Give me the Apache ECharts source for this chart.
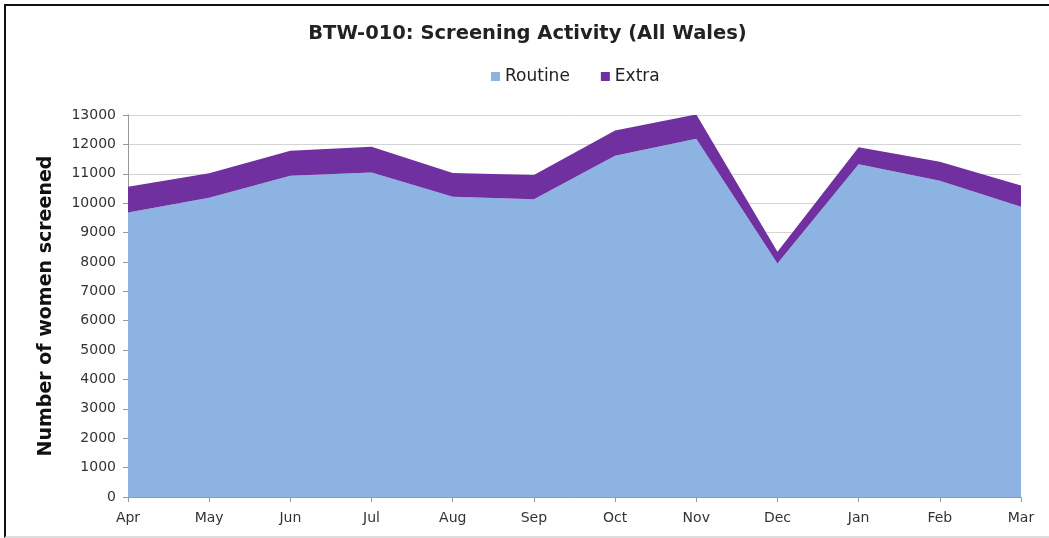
<!DOCTYPE html>
<html>
<head>
<meta charset="utf-8">
<script src="https://cdn.jsdelivr.net/npm/echarts@6/dist/echarts.min.js"></script>
<style>
  html, body { margin: 0; padding: 0; background: #fff; overflow: hidden; }
  #chart { position: absolute; left: 4px; top: 4px; width: 1043px; height: 530px;
           border-left: 2px solid #111; border-top: 2px solid #111; border-bottom: 2px solid #ddd; }
</style>
</head>
<body>
<div id="chart"></div>
<script>
const months = ['Apr', 'May', 'Jun', 'Jul', 'Aug', 'Sep', 'Oct', 'Nov', 'Dec', 'Jan', 'Feb', 'Mar'];
const routine = [9680, 10180, 10930, 11040, 10220, 10130, 11610, 12190, 7950, 11320, 10760, 9880];
const extra = [880, 840, 850, 880, 810, 830, 860, 830, 400, 580, 650, 720];

const chart = echarts.init(document.getElementById('chart'));
const font = 'DejaVu Sans';

chart.setOption({
  animation: false,
  title: {
    text: 'BTW-010: Screening Activity (All Wales)',
    left: 'center',
    top: 13,
    textStyle: { fontFamily: font, fontSize: 19.5, fontWeight: 'bold', color: '#222' }
  },
  legend: {
    top: 57,
    left: 480,
    itemWidth: 9,
    itemHeight: 9,
    itemGap: 31,
    icon: 'rect',
    textStyle: { fontFamily: font, fontSize: 17, color: '#222' },
    data: ['Routine', 'Extra']
  },
  grid: { left: 122, right: 28, top: 109, bottom: 39 },
  xAxis: {
    type: 'category',
    data: months,
    boundaryGap: false,
    axisLine: { lineStyle: { color: '#999' } },
    axisTick: { alignWithLabel: true, lineStyle: { color: '#999' } },
    axisLabel: { fontFamily: font, fontSize: 14, color: '#333', margin: 14 }
  },
  yAxis: {
    type: 'value',
    min: 0,
    max: 13000,
    interval: 1000,
    name: 'Number of women screened',
    nameLocation: 'middle',
    nameGap: 72,
    nameTextStyle: { fontFamily: font, fontSize: 19, fontWeight: 'bold', color: '#111' },
    axisLine: { show: true, lineStyle: { color: '#999' } },
    axisTick: { show: true, lineStyle: { color: '#999' } },
    axisLabel: { fontFamily: font, fontSize: 14, color: '#333', margin: 12, formatter: v => String(v) },
    splitLine: { lineStyle: { color: '#d4d4d4' } }
  },
  series: [
    {
      name: 'Routine',
      type: 'line',
      stack: 'total',
      data: routine,
      symbol: 'none',
      lineStyle: { width: 0 },
      itemStyle: { color: '#8DB3E2' },
      areaStyle: { color: '#8DB3E2', opacity: 1 }
    },
    {
      name: 'Extra',
      type: 'line',
      stack: 'total',
      data: extra,
      symbol: 'none',
      lineStyle: { width: 0 },
      itemStyle: { color: '#7030A0' },
      areaStyle: { color: '#7030A0', opacity: 1 }
    }
  ]
});
</script>
</body>
</html>
